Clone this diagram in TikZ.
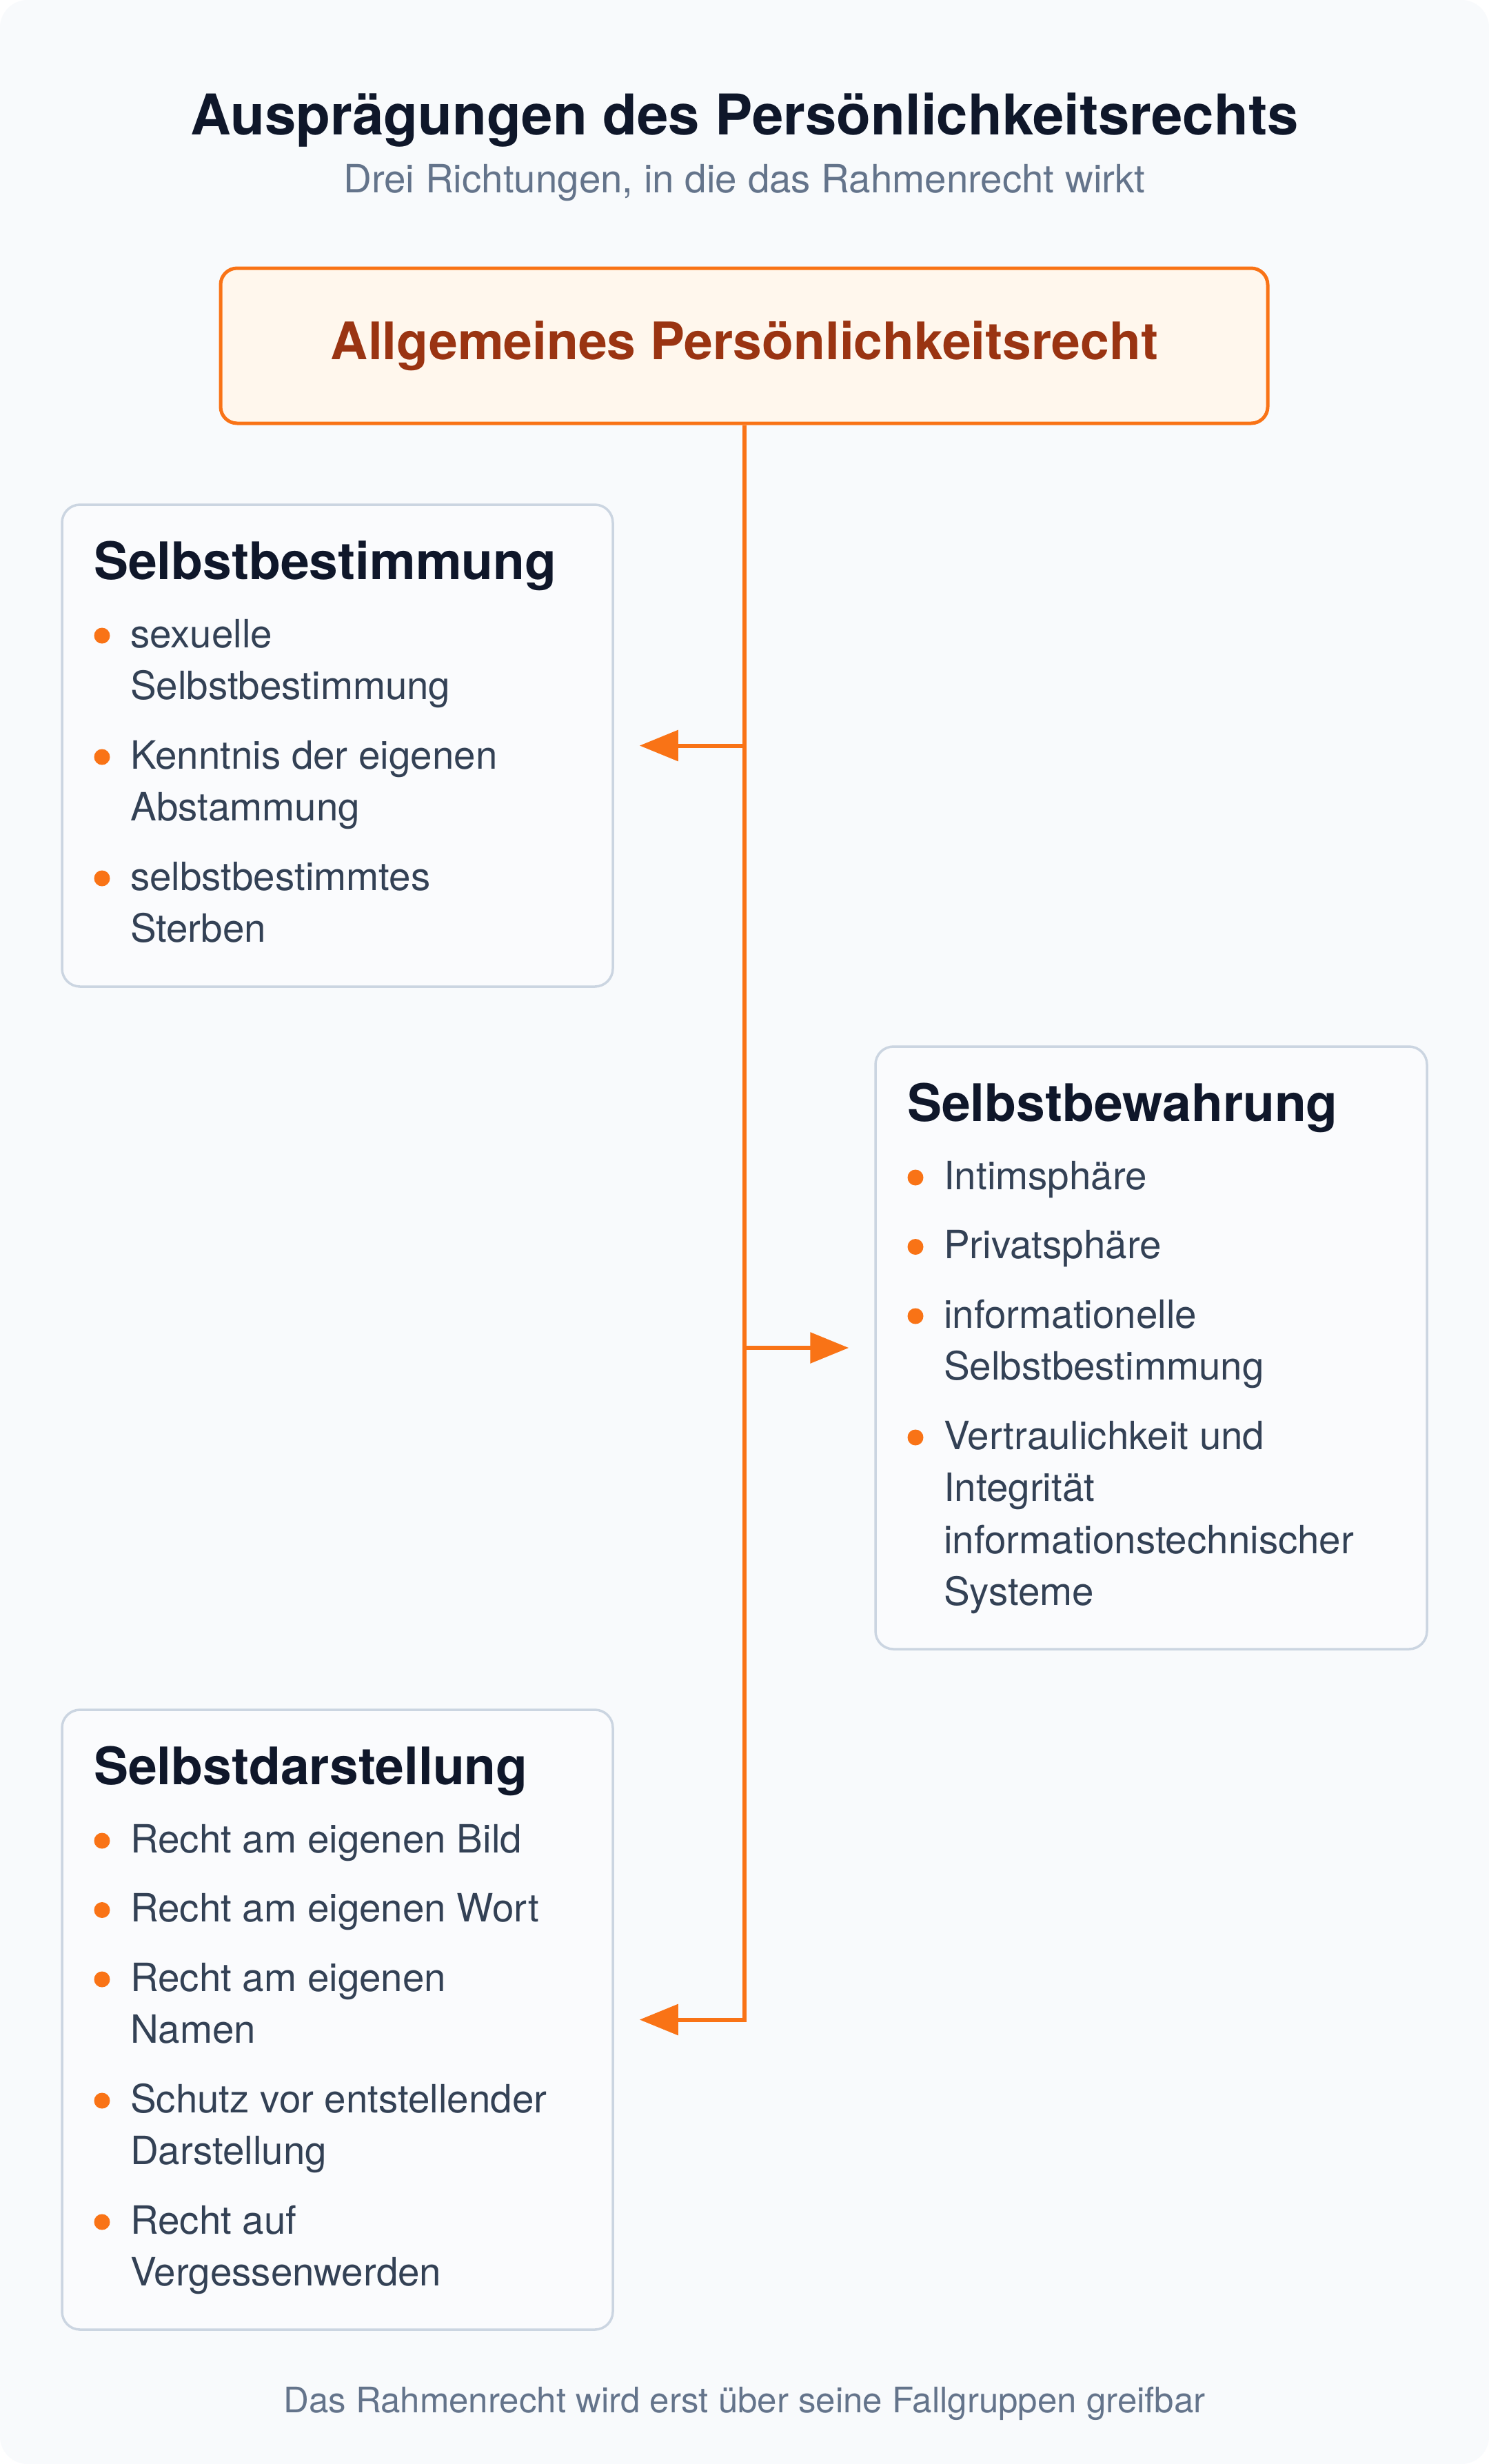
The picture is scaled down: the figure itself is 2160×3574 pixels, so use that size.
\documentclass[tikz,border=0pt]{standalone}
\usepackage{fontspec}
\setmainfont{TeX Gyre Heros}
\usetikzlibrary{arrows.meta}
\definecolor{pagebg}{HTML}{F8FAFC}
\definecolor{cardbg}{HTML}{FAFBFD}
\definecolor{cardline}{HTML}{CBD5E1}
\definecolor{accent}{HTML}{F97316}
\definecolor{rootbg}{HTML}{FFF7ED}
\definecolor{rootink}{HTML}{9A3412}
\definecolor{ink}{HTML}{0F172A}
\definecolor{body}{HTML}{334155}
\definecolor{muted}{HTML}{64748B}
\tikzset{
 conn/.style={draw=accent, line width=6pt},
 tipend/.style={-{Triangle[length=56pt,width=44pt]}, shorten >=37pt},
 card/.style={draw=cardline, line width=3.5pt, fill=cardbg, rounded corners=26pt, inner sep=0pt},
 rootbox/.style={draw=accent, line width=5pt, fill=rootbg, rounded corners=24pt, inner sep=0pt},
 head/.style={anchor=base west, inner sep=0pt, text=ink, font=\fontsize{75}{90}\selectfont\bfseries},
 itm/.style={anchor=base west, inner sep=0pt, text=body, font=\fontsize{56.5}{66}\selectfont},
 bdot/.style={circle, fill=accent, minimum size=23pt, inner sep=0pt},
}
\begin{document}
\begin{tikzpicture}[x=1pt,y=-1pt]
\useasboundingbox (0,0) rectangle (2160,3574);
\fill[white] (0,0) rectangle (2160,3574);
\fill[pagebg, rounded corners=40pt] (0,0) rectangle (2160,3574);

% title
\node[anchor=base, inner sep=0pt, text=ink, font=\fontsize{81.5}{96}\selectfont\bfseries] (title) at (1080,195) {Ausprägungen des Persönlichkeitsrechts};
\node[anchor=base, inner sep=0pt, text=muted, font=\fontsize{56.5}{66}\selectfont] (subtitle) at (1080,279) {Drei Richtungen, in die das Rahmenrecht wirkt};

% root
\node[rootbox, minimum width=1519pt, minimum height=225pt] (root) at (1079.5,501.5) {};
\node[anchor=base, inner sep=0pt, text=rootink, font=\fontsize{75}{90}\selectfont\bfseries] (roottext) at (1080,521) {Allgemeines Persönlichkeitsrecht};

% cards
\node[card, minimum width=799pt, minimum height=699pt] (b1) at (489.5,1081.5) {};
\node[card, minimum width=800pt, minimum height=874pt] (b2) at (1670,1955) {};
\node[card, minimum width=799pt, minimum height=899pt] (b3) at (489.5,2929.5) {};

% connectors
\draw[conn, tipend] (root.south) |- (b3.east);
\draw[conn, tipend] (root.south |- b1.east) -- (b1.east);
\draw[conn, tipend] (root.south |- b2.west) -- (b2.west);

% card 1
\node[head] (h1) at (136,840) {Selbstbestimmung};
\node[bdot] (d11) at (148,922) {};
\node[itm] (t11a) at (189,939) {sexuelle};
\node[itm] (t11b) at (189,1014.5) {Selbstbestimmung};
\node[bdot] (d12) at (148,1098) {};
\node[itm] (t12a) at (189,1115) {Kenntnis der eigenen};
\node[itm] (t12b) at (189,1190.5) {Abstammung};
\node[bdot] (d13) at (148,1274) {};
\node[itm] (t13a) at (189,1291) {selbstbestimmtes};
\node[itm] (t13b) at (189,1366.5) {Sterben};

% card 2
\node[head] (h2) at (1316,1626) {Selbstbewahrung};
\node[bdot] (d21) at (1328,1708) {};
\node[itm] (t21a) at (1369,1725) {Intimsphäre};
\node[bdot] (d22) at (1328,1808.5) {};
\node[itm] (t22a) at (1369,1825.5) {Privatsphäre};
\node[bdot] (d23) at (1328,1909) {};
\node[itm] (t23a) at (1369,1926) {informationelle};
\node[itm] (t23b) at (1369,2001.5) {Selbstbestimmung};
\node[bdot] (d24) at (1328,2085) {};
\node[itm] (t24a) at (1369,2102) {Vertraulichkeit und};
\node[itm] (t24b) at (1369,2177.5) {Integrität};
\node[itm] (t24c) at (1369,2253) {informationstechnischer};
\node[itm] (t24d) at (1369,2328.5) {Systeme};

% card 3
\node[head] (h3) at (136,2588) {Selbstdarstellung};
\node[bdot] (d31) at (148,2670) {};
\node[itm] (t31a) at (189,2687) {Recht am eigenen Bild};
\node[bdot] (d32) at (148,2770.5) {};
\node[itm] (t32a) at (189,2787.5) {Recht am eigenen Wort};
\node[bdot] (d33) at (148,2871) {};
\node[itm] (t33a) at (189,2888) {Recht am eigenen};
\node[itm] (t33b) at (189,2963.5) {Namen};
\node[bdot] (d34) at (148,3047) {};
\node[itm] (t34a) at (189,3064) {Schutz vor entstellender};
\node[itm] (t34b) at (189,3139.5) {Darstellung};
\node[bdot] (d35) at (148,3223) {};
\node[itm] (t35a) at (189,3240) {Recht auf};
\node[itm] (t35b) at (189,3315.5) {Vergessenwerden};

% footer
\node[anchor=base, inner sep=0pt, text=muted, font=\fontsize{51}{61}\selectfont] (footer) at (1080,3499) {Das Rahmenrecht wird erst über seine Fallgruppen greifbar};
\end{tikzpicture}
\end{document}
